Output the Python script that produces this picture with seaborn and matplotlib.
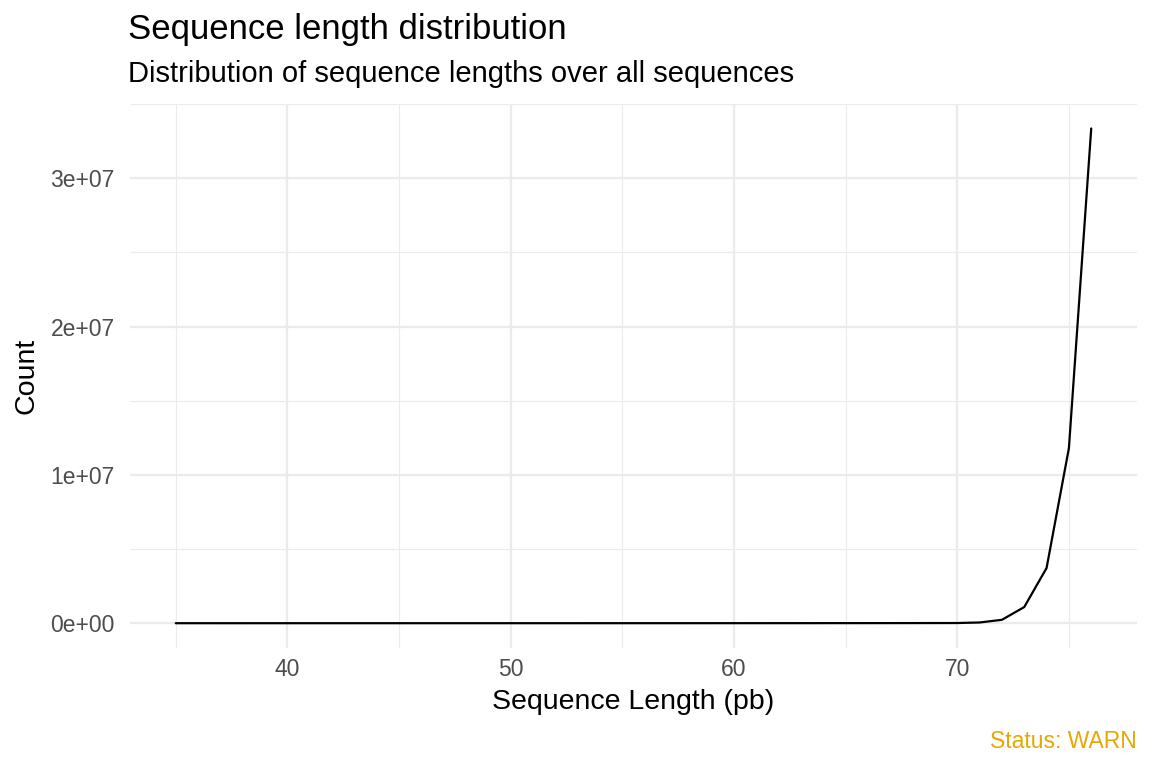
import matplotlib
matplotlib.use("Agg")
import matplotlib.pyplot as plt
import pandas as pd
import seaborn as sns
from matplotlib.ticker import FixedLocator, FuncFormatter

# sequence lengths (pb) and counts
lengths = list(range(35, 77))
counts = [1200, 900, 950, 1000, 1100, 1050, 1150, 1200, 1250, 1300,
          1350, 1400, 1500, 1600, 1700, 1800, 1900, 2000, 2200, 2400,
          2600, 2800, 3000, 3300, 3600, 4000, 4500, 5000, 5600, 6300,
          7000, 8000, 9500, 11000, 13500, 50000, 230000, 1090000,
          3720000, 11800000, 33350000]
# pad the flat start so both lists line up
counts = [1000] * (len(lengths) - len(counts)) + counts

df = pd.DataFrame({"length": lengths, "count": counts})

title = "Sequence length distribution"
subtitle = "Distribution of sequence lengths over all sequences"
status = "Status: WARN"

sns.set_theme(style="white")
plt.rcParams["font.family"] = ["Liberation Sans", "DejaVu Sans"]
plt.rcParams["text.color"] = "black"
plt.rcParams["axes.labelcolor"] = "black"

fig = plt.figure(figsize=(11.52, 7.68), dpi=100)
ax = fig.add_axes([130 / 1152, 1 - 648 / 768, (1137 - 130) / 1152, (648 - 104) / 768])

sns.lineplot(data=df, x="length", y="count", ax=ax, color="black", linewidth=1.6)

ax.set_xlim(32.95, 78.05)
ax.set_ylim(-1.67e6, 3.50e7)

ax.xaxis.set_major_locator(FixedLocator([40, 50, 60, 70]))
ax.xaxis.set_minor_locator(FixedLocator([35, 45, 55, 65, 75]))
ax.yaxis.set_major_locator(FixedLocator([0, 1e7, 2e7, 3e7]))
ax.yaxis.set_minor_locator(FixedLocator([0.5e7, 1.5e7, 2.5e7, 3.5e7]))
ax.yaxis.set_major_formatter(FuncFormatter(lambda v, p: f"{int(round(v / 1e7))}e+{'00' if v == 0 else '07'}"))

ax.grid(which="major", color="#ebebeb", linewidth=1.6)
ax.grid(which="minor", color="#ebebeb", linewidth=0.8)
ax.set_axisbelow(True)
for s in ax.spines.values():
    s.set_visible(False)
ax.tick_params(which="both", length=0, labelsize=16.5, labelcolor="#4d4d4d")
ax.tick_params(axis="y", pad=11)
ax.tick_params(axis="x", pad=7)

ax.set_xlabel("Sequence Length (pb)", fontsize=20.5, labelpad=6)
ax.set_ylabel("Count", fontsize=20.5, labelpad=8)

fig.text(128 / 1152, 1 - 30 / 768, title, fontsize=25, va="center", ha="left")
fig.text(128 / 1152, 1 - 74 / 768, subtitle, fontsize=21, va="center", ha="left")
fig.text(1137 / 1152, 1 - 741 / 768, status, fontsize=16.5, color="#E6A800", va="center", ha="right")

fig.savefig("out.png", dpi=100)
